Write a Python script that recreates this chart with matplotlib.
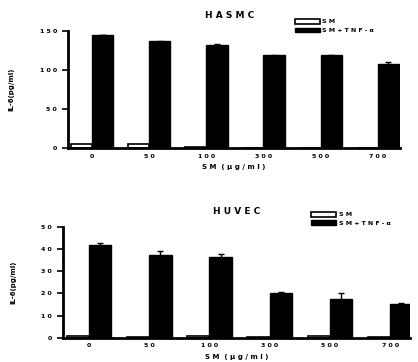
import numpy as np
import matplotlib
matplotlib.use("Agg")
import matplotlib.pyplot as plt
from matplotlib.patches import Patch

# Data
doses = ["0", "50", "100", "300", "500", "700"]

hasmc_sm = [5, 5, 1, 0, 0, 0]
hasmc_tnf = [145, 137, 132, 119, 119, 108]
hasmc_tnf_err = [0.5, 0.8, 1.0, 0.5, 0.5, 2.0]

huvec_sm = [1.0, 0.5, 0.8, 0.5, 0.6, 0.5]
huvec_tnf = [41.8, 37.5, 36.6, 20.3, 17.6, 15.2]
huvec_tnf_err = [0.8, 1.6, 1.2, 0.3, 2.7, 0.3]


def spaced(s):
    return " ".join(s)


plt.rcParams["font.family"] = ["DejaVu Sans"]
plt.rcParams["font.weight"] = "bold"

fig = plt.figure(figsize=(4.18, 3.62), dpi=100)


def panel(rect, title, sm, tnf, err, ymax, yticks, bw, xlim, title_xy, leg_xy):
    ax = fig.add_axes(rect)
    x = np.arange(len(doses))
    ax.bar(x - bw / 2, sm, bw, color="white", edgecolor="black", linewidth=1.2)
    ax.bar(x + bw / 2, tnf, bw, color="black", edgecolor="black",
           yerr=err, capsize=2, error_kw=dict(ecolor="black", elinewidth=1, capthick=1))
    ax.set_xlim(*xlim)
    ax.set_ylim(0, ymax)
    ax.set_yticks(yticks)
    ax.set_yticklabels([spaced(str(t)) for t in yticks], fontsize=4.5, fontweight="bold")
    ax.set_xticks(x)
    ax.set_xticklabels([spaced(d) for d in doses], fontsize=4.5, fontweight="bold")
    ax.tick_params(axis="x", length=0, pad=4)
    ax.tick_params(axis="y", length=4, width=1.2, pad=4)
    for s in ["top", "right"]:
        ax.spines[s].set_visible(False)
    for s in ["left", "bottom"]:
        ax.spines[s].set_linewidth(2)
    ax.set_xlabel(spaced("SM") + "  ( " + spaced("μg/ml") + " )", fontsize=5, fontweight="bold", labelpad=4)
    ax.set_ylabel("IL-6(pg/ml)", fontsize=5, fontweight="bold", labelpad=18)
    fig.text(title_xy[0], title_xy[1], spaced(title), fontsize=6.5, fontweight="bold",
             ha="center", va="center")
    handles = [Patch(facecolor="white", edgecolor="black", linewidth=1.2),
               Patch(facecolor="black", edgecolor="black")]
    ax.legend(handles, [spaced("SM"), spaced("SM+TNF-α")], loc="upper left",
              bbox_to_anchor=leg_xy, bbox_transform=fig.transFigure, frameon=False,
              fontsize=4.5, handlelength=4.0, handleheight=0.8, labelspacing=0.5,
              handletextpad=0.4, borderpad=0, borderaxespad=0)
    return ax


panel([0.163, 0.591, 0.794, 0.323], "HASMC", hasmc_sm, hasmc_tnf, hasmc_tnf_err,
      150, [0, 50, 100, 150], 0.37, (-0.42, 5.39), (0.55, 0.958), (0.705, 0.948))
panel([0.151, 0.067, 0.830, 0.306], "HUVEC", huvec_sm, huvec_tnf, huvec_tnf_err,
      50, [0, 10, 20, 30, 40, 50], 0.37, (-0.43, 5.33), (0.565, 0.417), (0.745, 0.415))

fig.savefig("out.png", dpi=100)
